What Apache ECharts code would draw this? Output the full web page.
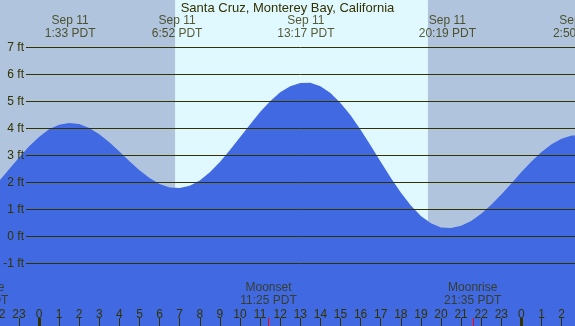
<!DOCTYPE html>
<html>
<head>
<meta charset="utf-8">
<title>Santa Cruz tides</title>
<script src="https://cdn.jsdelivr.net/npm/echarts@6/dist/echarts.min.js"></script>
<style>
  html, body { margin: 0; padding: 0; background: #b0c4de; }
  #ct1 { width: 575px; height: 326px; }
</style>
</head>
<body>
<div id="ct1"></div>
<script>
// tide heights, every half hour from 22:00 Sep 10 (PDT)
var tideHours = [-2, -1.5, -1, -0.5, 0, 0.5, 1, 1.5, 2, 2.5, 3, 3.5, 4, 4.5, 5, 5.5, 6, 6.5, 7, 7.5,
  8, 8.5, 9, 9.5, 10, 10.5, 11, 11.5, 12, 12.5, 13, 13.5, 14, 14.5, 15, 15.5, 16, 16.5, 17, 17.5,
  18, 18.5, 19, 19.5, 20, 20.5, 21, 21.5, 22, 22.5, 23, 23.5, 24, 24.5, 25, 25.5, 26, 26.5, 27];
var tideFeet = [2.03, 2.47, 2.91, 3.33, 3.68, 3.96, 4.13, 4.2, 4.16, 4.01, 3.78, 3.48, 3.14, 2.78, 2.45, 2.16, 1.94, 1.81, 1.79, 1.87,
  2.07, 2.37, 2.75, 3.2, 3.67, 4.14, 4.6, 5.0, 5.33, 5.56, 5.68, 5.69, 5.56, 5.31, 4.94, 4.48, 3.95, 3.36, 2.76, 2.17,
  1.62, 1.14, 0.75, 0.48, 0.33, 0.31, 0.39, 0.57, 0.84, 1.17, 1.55, 1.96, 2.38, 2.77, 3.12, 3.41, 3.61, 3.73, 3.74];

// highs / lows shown along the top
var extremeHours = [1.55, 6.87, 13.28, 20.32, 26.83];
var extremeDates = ['Sep 11', 'Sep 11', 'Sep 11', 'Sep 11', 'Sep 12'];
var extremeTimes = ['1:33 PDT', '6:52 PDT', '13:17 PDT', '20:19 PDT', '2:50 PDT'];

// moon events along the bottom
var moonHours = [-2.95, 11.42, 21.58];
var moonNames = ['Moonrise', 'Moonset', 'Moonrise'];
var moonTimes = ['21:03 PDT', '11:25 PDT', '21:35 PDT'];

// daylight
var sunHours = [6.77, 19.35];

// hour axis
var hourTicks = [-2, -1, 0, 1, 2, 3, 4, 5, 6, 7, 8, 9, 10, 11, 12, 13, 14, 15, 16, 17, 18, 19, 20, 21, 22, 23, 24, 25, 26, 27];
var midnightTicks = [0, 24];

var X_MIN = -2, X_MAX = 27;
var Y_MIN = -3.32, Y_MAX = 8.75;
var INK = '#333300';

window.onload = function () {
  var myChart = echarts.init(document.getElementById('ct1'));

  var box = { left: -1.2, right: -6.7, top: 0, bottom: 0, outerBoundsMode: 'none', containLabel: false };
  function hiddenY(i) {
    return { type: 'value', gridIndex: i, min: Y_MIN, max: Y_MAX, show: false };
  }

  var option = {
    animation: false,
    backgroundColor: '#b0c4de',
    textStyle: { fontFamily: 'Liberation Sans, Arial, sans-serif' },
    title: {
      text: 'Santa Cruz, Monterey Bay, California',
      left: 'center',
      top: 2,
      padding: 0,
      textStyle: { fontSize: 13, fontWeight: 'normal', color: INK }
    },
    grid: [
      box,
      box,
      box,
      { left: 26, right: 0, top: 47.3, bottom: 62.7, outerBoundsMode: 'none', containLabel: false }
    ],
    xAxis: [
      {
        type: 'value', gridIndex: 0, min: X_MIN, max: X_MAX, z: 5,
        axisLine: { show: false, onZero: false },
        splitLine: { show: false },
        axisTick: { show: true, inside: true, length: 8, customValues: hourTicks,
          lineStyle: { color: INK, width: 1 } },
        axisLabel: { show: true, inside: true, margin: 5.5, customValues: hourTicks,
          color: INK, fontSize: 12, hideOverlap: false,
          formatter: function (v) { return String(((v % 24) + 24) % 24); } }
      },
      {
        type: 'value', gridIndex: 1, min: X_MIN, max: X_MAX, z: 6,
        axisLine: { show: false, onZero: false },
        splitLine: { show: false },
        axisLabel: { show: false },
        axisTick: { show: true, inside: true, length: 8, customValues: midnightTicks,
          lineStyle: { color: INK, width: 3 } }
      },
      {
        type: 'value', gridIndex: 2, min: X_MIN, max: X_MAX, z: 6,
        axisLine: { show: false, onZero: false },
        splitLine: { show: false },
        axisLabel: { show: false },
        axisTick: { show: true, inside: true, length: 8,
          customValues: moonHours.filter(function (h) { return h >= X_MIN; }),
          lineStyle: { color: '#ff0000', width: 1 } }
      },
      { type: 'value', gridIndex: 3, min: 0, max: 1, show: false }
    ],
    yAxis: [
      hiddenY(0),
      hiddenY(1),
      hiddenY(2),
      {
        type: 'value', gridIndex: 3, min: -1, max: 7, interval: 1, z: 5,
        axisLine: { show: false },
        axisTick: { show: false },
        splitLine: { show: true, lineStyle: { color: INK, width: 1 } },
        axisLabel: { margin: 2, color: INK, fontSize: 12, formatter: '{value} ft' }
      }
    ],
    series: [
      {
        name: 'daylight',
        type: 'line',
        data: [],
        z: 1,
        silent: true,
        markArea: {
          silent: true,
          itemStyle: { color: '#e0f8ff' },
          data: [[{ xAxis: sunHours[0] }, { xAxis: sunHours[1] }]]
        }
      },
      {
        name: 'tide',
        type: 'line',
        z: 2,
        smooth: false,
        symbol: 'none',
        silent: true,
        clip: false,
        lineStyle: { width: 0 },
        areaStyle: { color: '#4169e1', opacity: 1, origin: 'start' },
        data: tideHours.map(function (h, i) { return [h, tideFeet[i]]; })
      },
      {
        name: 'extremes',
        type: 'scatter',
        z: 6,
        clip: false,
        silent: true,
        symbolSize: 0,
        label: {
          show: true, position: 'bottom', distance: 14.5,
          color: INK, fontSize: 12, lineHeight: 13, align: 'center',
          formatter: function (p) {
            return extremeDates[p.dataIndex] + '\n' + extremeTimes[p.dataIndex];
          }
        },
        data: extremeHours.map(function (h) { return [h, Y_MAX]; })
      },
      {
        name: 'moon',
        type: 'scatter',
        z: 6,
        clip: false,
        silent: true,
        symbolSize: 0,
        label: {
          show: true, position: 'top', distance: 19,
          color: INK, fontSize: 12, lineHeight: 13, align: 'center',
          formatter: function (p) {
            return moonNames[p.dataIndex] + '\n' + moonTimes[p.dataIndex];
          }
        },
        data: moonHours.map(function (h) { return [h, Y_MIN]; })
      }
    ]
  };

  myChart.setOption(option);
};
</script>
</body>
</html>
